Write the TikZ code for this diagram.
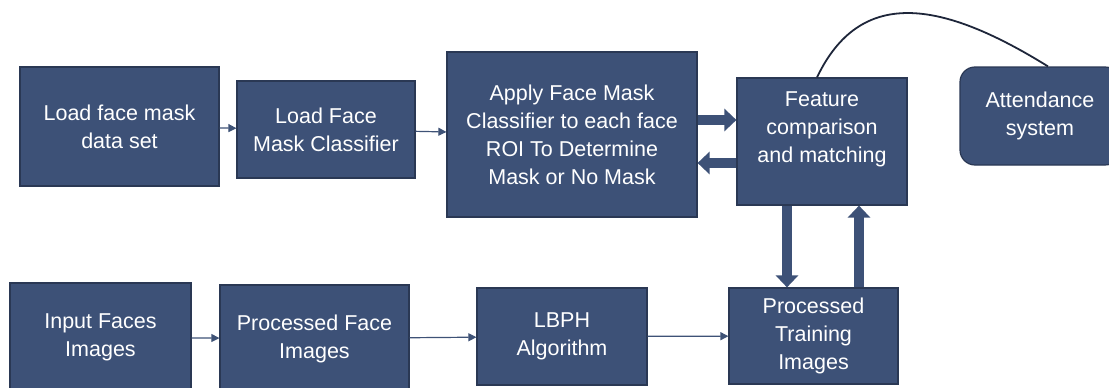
\documentclass[tikz,border=0pt]{standalone}
\usepackage{fontspec}
\setmainfont{Liberation Sans}
\usetikzlibrary{
  arrows.meta,
  calc
}
\definecolor{boxfill}{RGB}{61, 81, 119}
\definecolor{boxedge}{RGB}{42, 56, 84}
\definecolor{linkclr}{RGB}{62, 82, 118}
\definecolor{curveclr}{RGB}{30, 38, 58}
\tikzset{
  % Bloklar
  block/.style      = {draw=boxedge, line width=1.2pt, fill=boxfill, text=white,
                       align=center, inner sep=0pt, font=\fontsize{21.5}{28}\selectfont},
  roundblock/.style = {block, rounded corners=15pt},
  % Strelkalar
  thinarrow/.style  = {-{Triangle[length=8pt,width=8pt]}, line width=1.2pt, linkclr},
  fatarrow/.style   = {-{Triangle[length=12pt,width=22pt]}, line width=10pt, boxfill},
  curveline/.style  = {line width=1.8pt, curveclr},
}
\begin{document}
\begin{tikzpicture}[x=1pt,y=-1pt]
  \useasboundingbox (0,0) rectangle (1109,388);
  % Yuqori qator
  \node[block, minimum width=199pt, minimum height=119pt] (loaddata) at (119.5,126.5) {Load face mask\\data set};
  \node[block, minimum width=178pt, minimum height=97pt] (loadclf) at (326,129.5) {Load Face\\Mask Classifier};
  \node[block, minimum width=250pt, minimum height=165pt] (apply) at (572,134.5)
    {Apply Face Mask\\Classifier to each face\\ROI To Determine\\Mask or No Mask};
  \node[block, minimum width=170pt, minimum height=127pt] (feat) at (822,141.5)
    {Feature\\comparison\\and matching\\ };
  \node[roundblock, minimum width=160pt, minimum height=98pt] (att) at (1040,116) {Attendance\\system};
  % Pastki qator
  \node[block, minimum width=181pt, minimum height=109pt] (input) at (100.5,337.5) {Input Faces\\Images};
  \node[block, minimum width=189pt, minimum height=107pt] (procface) at (314.5,338.5) {Processed Face\\Images};
  \node[block, minimum width=170pt, minimum height=97pt] (lbph) at (562,336.5) {LBPH\\Algorithm};
  \node[block, minimum width=169pt, minimum height=96pt] (train) at (813.5,336) {Processed\\Training\\Images};
  % Ingichka strelkalar
  \draw[thinarrow] (loaddata) -- (loadclf);
  \draw[thinarrow] (loadclf) -- (apply);
  \draw[thinarrow] (input) -- (procface);
  \draw[thinarrow] (procface) -- (lbph);
  \draw[thinarrow] (lbph) -- (train);
  % Yo'g'on strelkalar
  \coordinate (fwdpt) at ([yshift=21.5pt]feat.west);
  \coordinate (backpt) at ([yshift=-21.5pt]feat.west);
  \draw[fatarrow] (apply.east |- fwdpt) -- (fwdpt);
  \draw[fatarrow] (backpt) -- (apply.east |- backpt);
  \coordinate (downpt) at ([xshift=-35pt]feat.south);
  \coordinate (uppt) at ([xshift=37pt]feat.south);
  \draw[fatarrow] (downpt) -- (downpt |- train.north);
  \draw[fatarrow] (uppt |- train.north) -- (uppt);
  % Egri chiziq
  \draw[curveline] ([xshift=-5pt]feat.north) .. controls +(43,-90) and +(-108,-67) .. ([xshift=8pt]att.north);
\end{tikzpicture}
\end{document}
